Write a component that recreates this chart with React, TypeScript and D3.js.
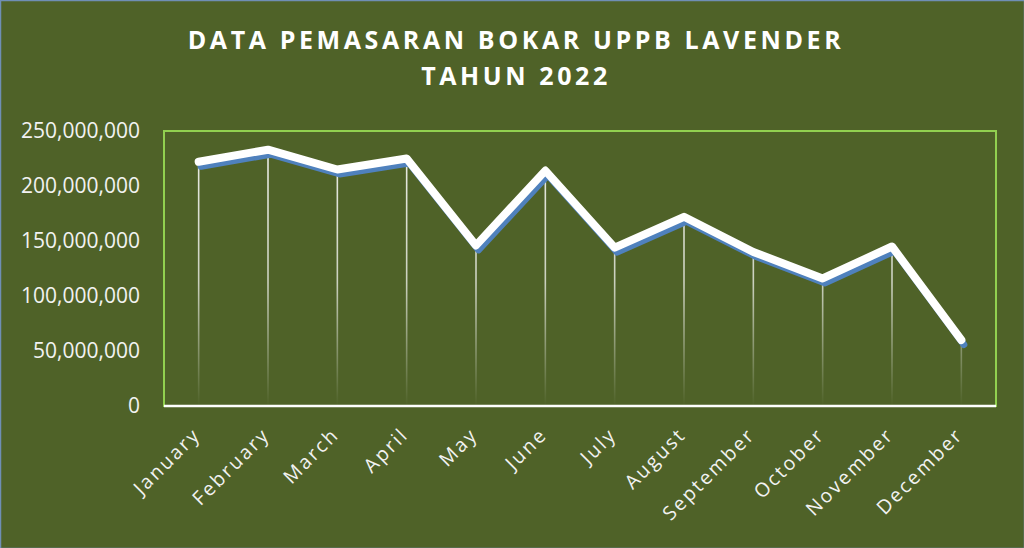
import { useMemo } from 'react';
import * as d3 from 'd3';

const months = ['January', 'February', 'March', 'April', 'May', 'June', 'July', 'August', 'September', 'October', 'November', 'December'];
const sales = [222000000, 233000000, 215000000, 225000000, 146000000, 214000000, 144000000, 172000000, 140000000, 116000000, 145000000, 60000000];
const yTicks = [0, 50000000, 100000000, 150000000, 200000000, 250000000];
const titleLines = ['DATA PEMASARAN BOKAR UPPB LAVENDER', 'TAHUN 2022'];

const W = 1024;
const H = 548;
const plot = { left: 164, right: 996, top: 131, bottom: 406 };

export default function App() {
  const x = useMemo(() => d3.scaleBand<string>().domain(months).range([plot.left, plot.right]), []);
  const y = useMemo(() => d3.scaleLinear().domain([0, 250000000]).range([plot.bottom, plot.top]), []);
  const fmt = d3.format(',');

  const cx = (m: string) => (x(m) ?? 0) + x.bandwidth() / 2;

  const line = d3.line<number>()
    .x((_, i) => cx(months[i]))
    .y(d => y(d))
    .curve(d3.curveLinear);
  const path = line(sales) || '';

  return (
    <svg width={W} height={H} style={{ position: 'fixed', left: 0, top: 0 }} fontFamily="'Open Sans', sans-serif">
      <defs>
        <linearGradient id="drop" gradientUnits="userSpaceOnUse" x1="0" y1={plot.top} x2="0" y2={plot.bottom}>
          <stop offset="0%" stopColor="#ffffff" stopOpacity={0.9} />
          <stop offset="55%" stopColor="#ffffff" stopOpacity={0.7} />
          <stop offset="100%" stopColor="#ffffff" stopOpacity={0} />
        </linearGradient>
      </defs>

      {/* background */}
      <rect x={0} y={0} width={W} height={H} fill="#4f6228" />
      <rect x={0.5} y={0.5} width={W} height={H} fill="none" stroke="#6f8fb5" strokeWidth={1.5} />

      {/* title */}
      {titleLines.map((t, i) => (
        <text key={t} x={516} y={48.5 + i * 36.5} textAnchor="middle" fill="#ffffff" fontWeight="bold" fontSize={25} letterSpacing={3.6}>
          {t}
        </text>
      ))}

      {/* plot frame */}
      <rect x={plot.left} y={plot.top} width={plot.right - plot.left} height={plot.bottom - plot.top} fill="none" stroke="#92d050" strokeWidth={2} />

      {/* y labels */}
      {yTicks.map(t => (
        <text key={t} x={140} y={y(t)} dy="0.35em" textAnchor="end" fill="#f2f2f2" fontSize={21}>
          {fmt(t)}
        </text>
      ))}

      {/* drop lines */}
      {sales.map((v, i) => (
        <rect key={months[i]} x={cx(months[i]) - 0.8} y={y(v)} width={1.6} height={plot.bottom - y(v)} fill="url(#drop)" />
      ))}

      {/* x axis line */}
      <line x1={plot.left} x2={plot.right} y1={plot.bottom} y2={plot.bottom} stroke="#ffffff" strokeWidth={2.5} />

      {/* shadow series + main line */}
      <path d={path} fill="none" stroke="#4f81bd" strokeWidth={7} strokeLinejoin="round" strokeLinecap="round" transform="translate(2.5,4.5)" />
      <path d={path} fill="none" stroke="#ffffff" strokeWidth={8} strokeLinejoin="round" strokeLinecap="round" />

      {/* x labels */}
      {months.map(m => (
        <text key={m} transform={`translate(${cx(m) + 3},${plot.bottom + 30}) rotate(-45)`} textAnchor="end" fill="#f2f2f2" fontSize={19.5} letterSpacing={2.3}>
          {m}
        </text>
      ))}
    </svg>
  );
}
